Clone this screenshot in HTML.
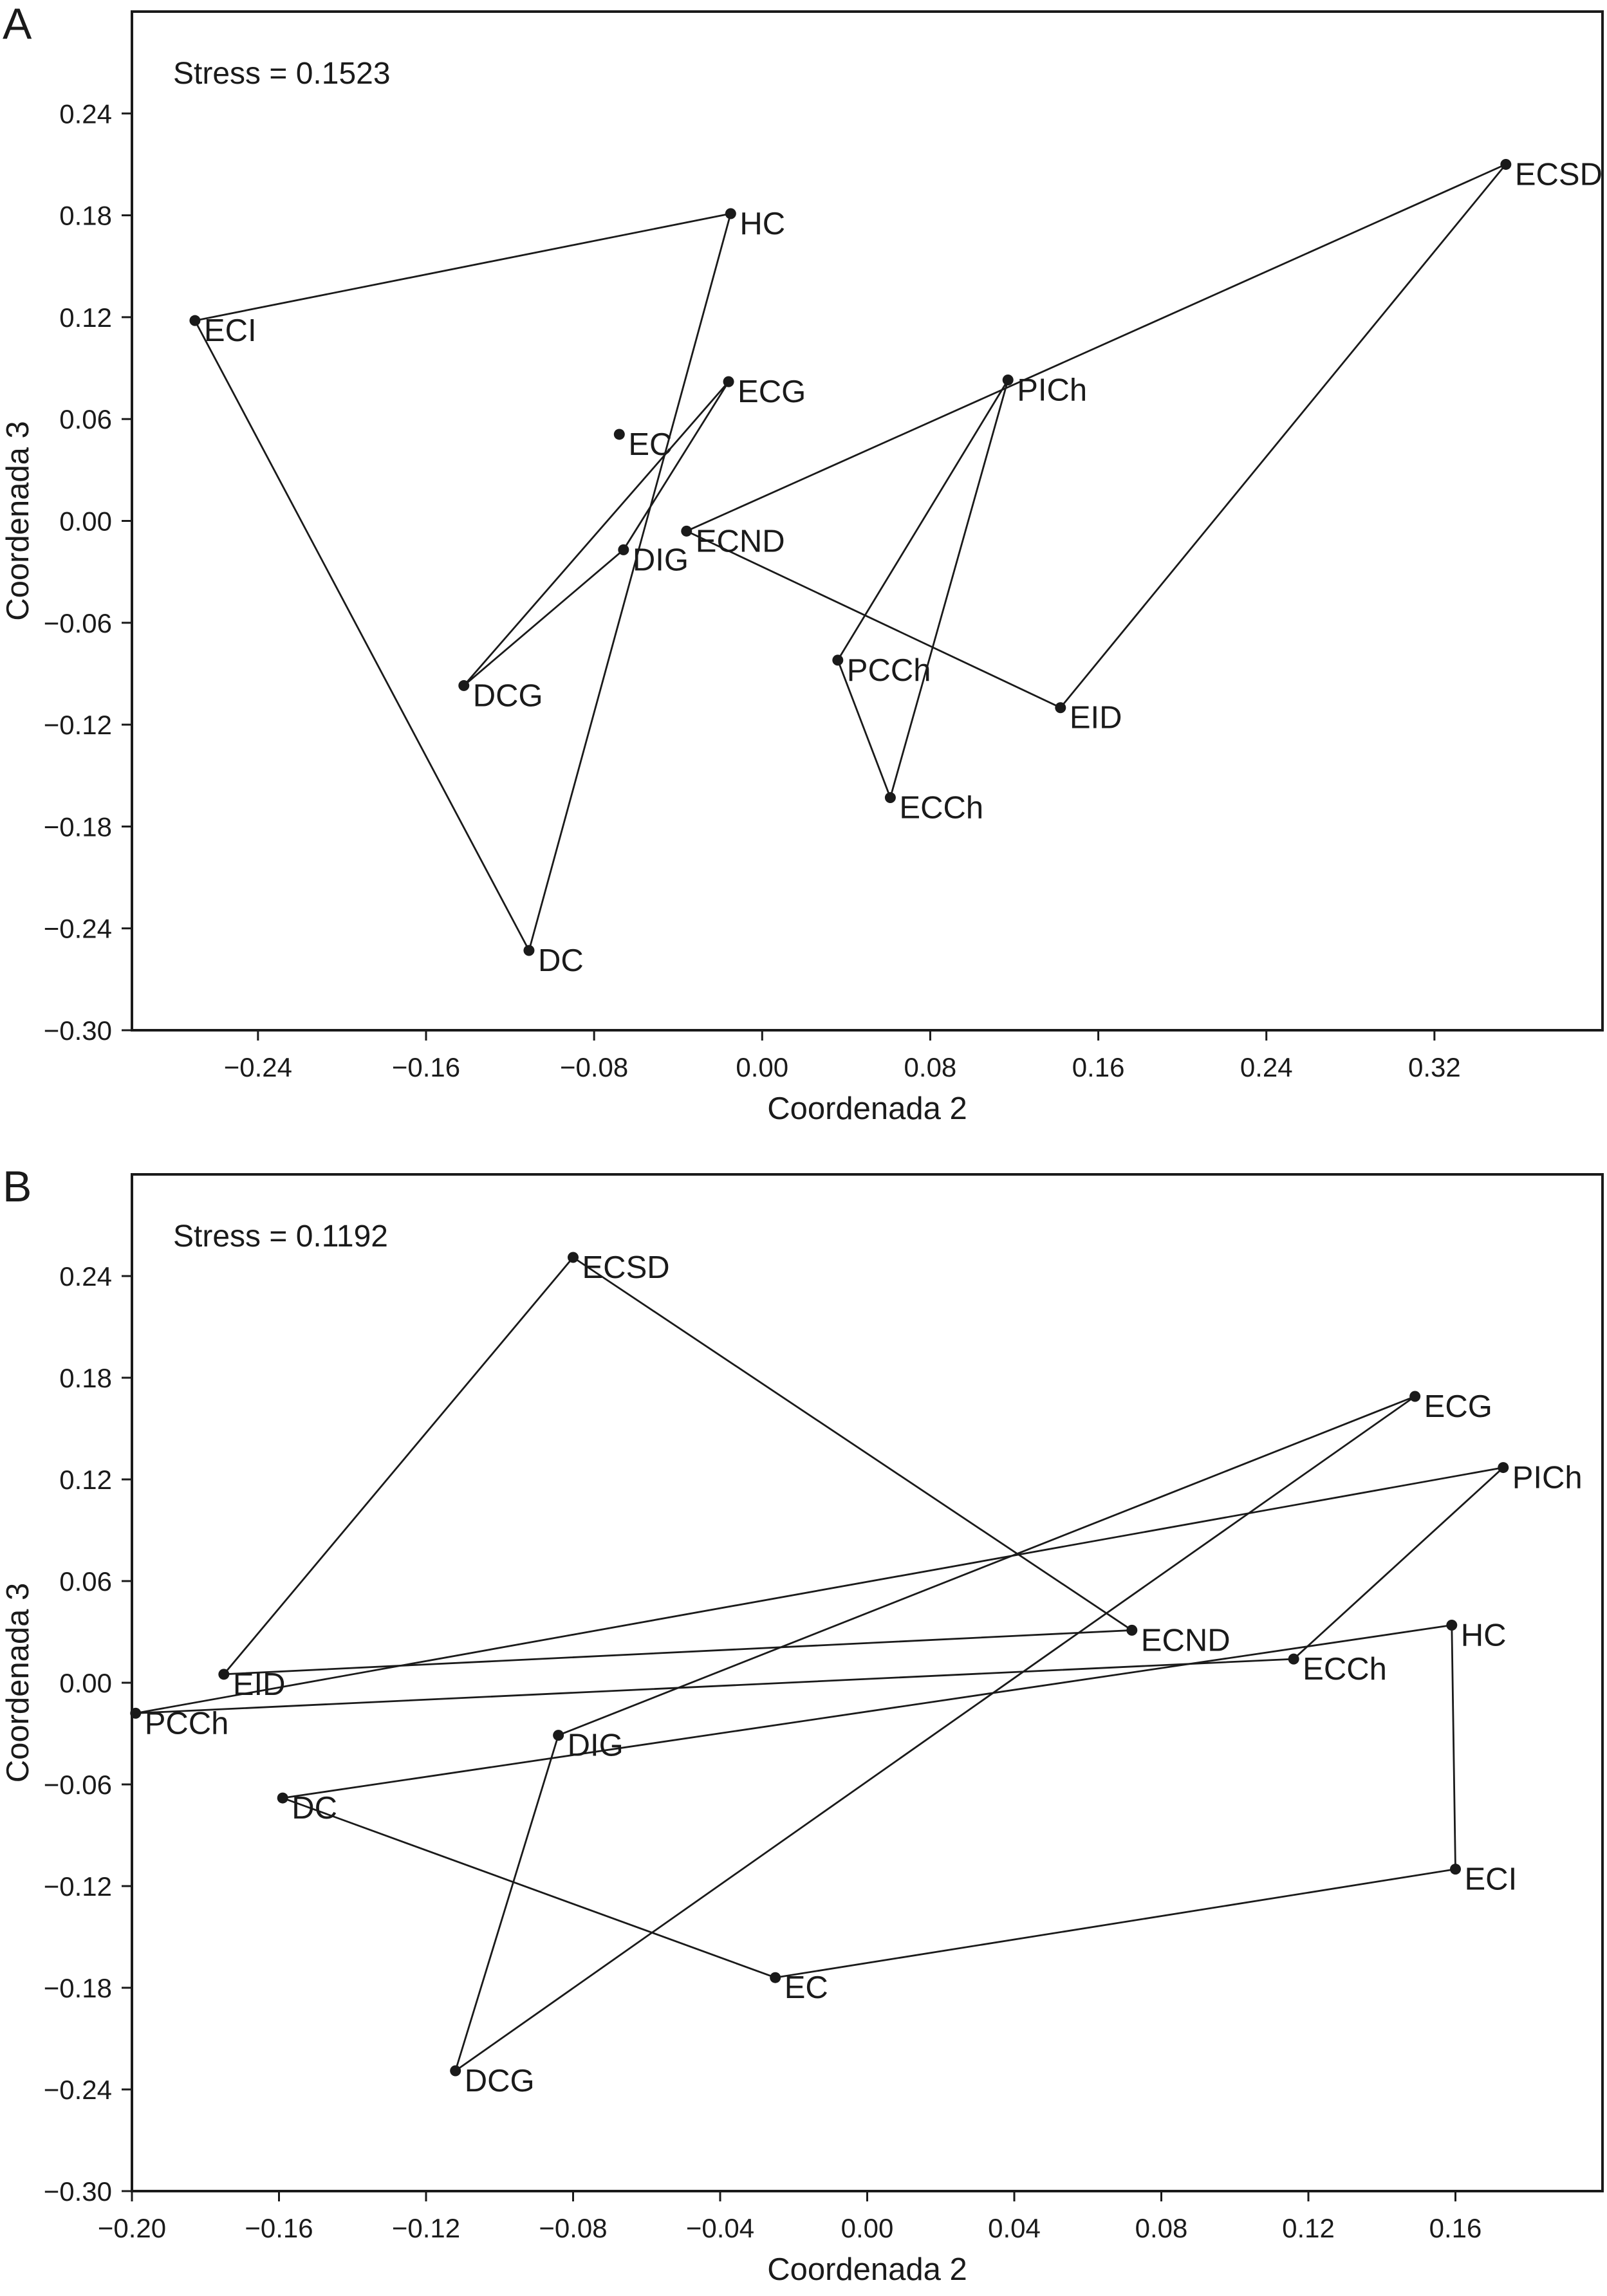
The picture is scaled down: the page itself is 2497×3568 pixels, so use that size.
<!DOCTYPE html>
<html><head><meta charset="utf-8">
<style>
html,body{margin:0;padding:0;background:#fff;}
svg{display:block;}
text{font-family:"Liberation Sans",Arial,sans-serif;fill:#1a1a1a;}
</style></head>
<body>
<svg id="fig" width="2497" height="3568" viewBox="0 0 2497 3568" xmlns="http://www.w3.org/2000/svg"></svg>
<script>
// Panel A data
const namesA = ["ECSD","HC","ECI","ECG","PICh","EC","ECND","DIG","DCG","PCCh","EID","ECCh","DC"];
const xA = [0.354,-0.015,-0.270,-0.016,0.117,-0.068,-0.036,-0.066,-0.142,0.036,0.142,0.061,-0.111];
const yA = [0.210,0.181,0.118,0.082,0.083,0.051,-0.006,-0.017,-0.097,-0.082,-0.110,-0.163,-0.253];
const groupsA = [["HC","ECI","DC"],["ECG","DCG","DIG"],["ECSD","ECND","EID"],["PICh","PCCh","ECCh"]];
const xTicksA = [-0.24,-0.16,-0.08,0.00,0.08,0.16,0.24,0.32];
const yTicks = [0.24,0.18,0.12,0.06,0.00,-0.06,-0.12,-0.18,-0.24,-0.30];
// Panel B data
const namesB = ["ECSD","ECG","PICh","ECND","HC","ECCh","EID","PCCh","DIG","DC","ECI","EC","DCG"];
const xB = [-0.080,0.149,0.173,0.072,0.159,0.116,-0.175,-0.199,-0.084,-0.159,0.160,-0.025,-0.112];
const yB = [0.251,0.169,0.127,0.031,0.034,0.014,0.005,-0.018,-0.031,-0.068,-0.110,-0.174,-0.229];
const groupsB = [["ECSD","ECND","EID"],["ECG","DIG","DCG"],["PICh","PCCh","ECCh"],["HC","DC","EC","ECI"]];
const xTicksB = [-0.20,-0.16,-0.12,-0.08,-0.04,0.00,0.04,0.08,0.12,0.16];

const NS="http://www.w3.org/2000/svg";
const svg=document.getElementById('fig');
function mk(tag,attrs,parent){const e=document.createElementNS(NS,tag);for(const k in attrs)e.setAttribute(k,attrs[k]);(parent||svg).appendChild(e);return e;}
function fmt(v){const s=Math.abs(v).toFixed(2);return (v<-1e-9?"\u2212":"")+s;}

function panel(cfg){
  const g=mk('g',{});
  
  
  const L=cfg.left,R=cfg.right,T=cfg.top,B=cfg.bottom;
  const sx=v=>L+(v-cfg.xmin)/(cfg.xmax-cfg.xmin)*(R-L);
  const sy=v=>B-(v-cfg.ymin)/(cfg.ymax-cfg.ymin)*(B-T);
  const letter=mk('text',{x:4,y:cfg.top+42,'font-size':68},g);letter.textContent=cfg.letter;
  
  
  const frame=mk('rect',{x:L,y:T,width:R-L,height:B-T,fill:'none',stroke:'#1a1a1a','stroke-width':4},g);
  
  
  const st=mk('text',{x:L+64,y:T+112,'font-size':48},g);st.textContent=cfg.stress;
  
  
  yTicks.forEach(v=>{const y=sy(v);
    const t=mk('line',{x1:L-16,x2:L,y1:y,y2:y,stroke:'#1a1a1a','stroke-width':3},g);
    
    
    const lb=mk('text',{x:L-31,y:y+15,'font-size':42,'text-anchor':'end'},g);lb.textContent=fmt(v);
    
    
  });
  cfg.xticks.forEach(v=>{const x=sx(v);
    const t=mk('line',{x1:x,x2:x,y1:B,y2:B+16,stroke:'#1a1a1a','stroke-width':3},g);
    
    
    const lb=mk('text',{x:x,y:B+72,'font-size':42,'text-anchor':'middle'},g);lb.textContent=fmt(v);
    
    
  });
  const xt=mk('text',{x:(L+R)/2-0,y:B+138,'font-size':49,'text-anchor':'middle'},g);xt.textContent='Coordenada 2';
  
  
  const yc=(T+B)/2;
  const yt=mk('text',{x:0,y:0,'font-size':49,'text-anchor':'middle',transform:`translate(44,${yc}) rotate(-90)`},g);yt.textContent='Coordenada 3';
  
  
  cfg.groups.forEach(grp=>{
    const pts=grp.map(n=>{const i=cfg.names.indexOf(n);return sx(cfg.xs[i]).toFixed(1)+','+sy(cfg.ys[i]).toFixed(1);});
    const p=mk('polygon',{points:pts.join(' '),fill:'none',stroke:'#1a1a1a','stroke-width':2.8},g);
    
    
  });
  cfg.names.forEach((n,i)=>{
    const x=sx(cfg.xs[i]),y=sy(cfg.ys[i]);
    const c=mk('circle',{cx:x,cy:y,r:8.5,fill:'#1a1a1a'},g);
    
    
    const t=mk('text',{x:x+14,y:y+32,'font-size':49},g);t.textContent=n;
    
    
  });
}
panel({id:'panel-a',letter:'A',stress:'Stress = 0.1523',left:205,right:2490,top:18,bottom:1601,xmin:-0.30,xmax:0.40,ymin:-0.30,ymax:0.30,xticks:xTicksA,names:namesA,xs:xA,ys:yA,groups:groupsA});
panel({id:'panel-b',letter:'B',stress:'Stress = 0.1192',left:205,right:2490,top:1825,bottom:3405,xmin:-0.20,xmax:0.20,ymin:-0.30,ymax:0.30,xticks:xTicksB,names:namesB,xs:xB,ys:yB,groups:groupsB});
</script>
</body></html>
